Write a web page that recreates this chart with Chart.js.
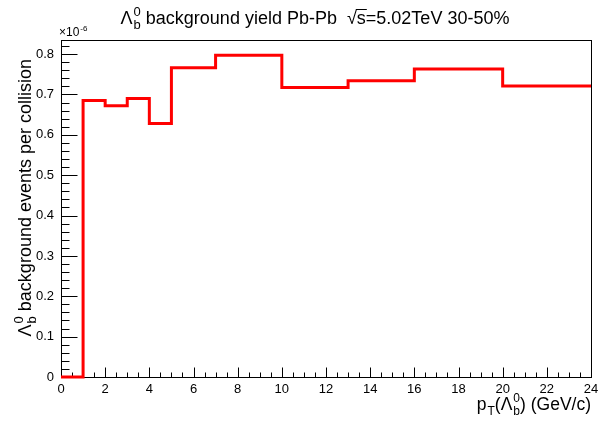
<!DOCTYPE html>
<html>
<head>
<meta charset="utf-8">
<script src="https://cdn.jsdelivr.net/npm/chart.js@4.4.1/dist/chart.umd.min.js"></script>
<style>
  body { margin: 0; background: #fff; }
  canvas { display: block; }
</style>
</head>
<body>
<canvas id="hist" width="611" height="424"></canvas>
<script>
// Bordes de los bins en pT (GeV/c)
const binEdges = [0, 1, 2, 3, 4, 5, 7, 10, 13, 16, 20, 24];
// Fondo por colisión en unidades de 1e-6
const bkgYield = [0, 0.685, 0.672, 0.690, 0.628, 0.766, 0.797, 0.717, 0.734, 0.763, 0.721];
// Etiquetas de los ejes
const xTickLabels = [0, 2, 4, 6, 8, 10, 12, 14, 16, 18, 20, 22, 24];
const yTickLabels = [0, 0.1, 0.2, 0.3, 0.4, 0.5, 0.6, 0.7, 0.8];

const FONT = '"Liberation Sans", Arial, Helvetica, sans-serif';

// Puntos del histograma (escalón)
const histPoints = bkgYield.map((v, i) => ({ x: binEdges[i], y: v }));
histPoints.push({ x: binEdges[binEdges.length - 1], y: bkgYield[bkgYield.length - 1] });

// Texto con sub/superíndices estilo ROOT
function itemWidth(ctx, it, size) {
    if (typeof it === 'string') {
        ctx.font = size + 'px ' + FONT;
        return ctx.measureText(it).width;
    }
    if (it.sqrt) {
        ctx.font = size + 'px ' + FONT;
        return ctx.measureText('\u221A').width + ctx.measureText(it.sqrt).width;
    }
    ctx.font = Math.round(size * 0.7) + 'px ' + FONT;
    const a = it.sup ? ctx.measureText(it.sup).width : 0;
    const b = it.sub ? ctx.measureText(it.sub).width : 0;
    return Math.max(a, b) + 1;
}

function drawRich(ctx, items, x, y, size, align) {
    let total = 0;
    items.forEach(it => total += itemWidth(ctx, it, size));
    if (align === 'center') x -= total / 2;
    if (align === 'right') x -= total;
    ctx.textBaseline = 'alphabetic';
    ctx.textAlign = 'left';
    items.forEach(it => {
        const w = itemWidth(ctx, it, size);
        if (typeof it === 'string') {
            ctx.font = size + 'px ' + FONT;
            ctx.fillText(it, x, y);
        } else if (it.sqrt) {
            ctx.font = size + 'px ' + FONT;
            const rw = ctx.measureText('\u221A').width;
            ctx.fillText('\u221A', x, y);
            ctx.fillText(it.sqrt, x + rw, y);
            ctx.beginPath();
            ctx.lineWidth = 1;
            ctx.moveTo(x + rw - 1, Math.round(y - size * 0.82) + 0.5);
            ctx.lineTo(x + w + 1, Math.round(y - size * 0.82) + 0.5);
            ctx.stroke();
        } else {
            ctx.font = Math.round(size * 0.7) + 'px ' + FONT;
            if (it.sup) ctx.fillText(it.sup, x + 1, y - size * 0.45);
            if (it.sub) ctx.fillText(it.sub, x + 1, y + size * 0.3);
        }
        x += w;
    });
}

// Marco, ticks y textos estilo ROOT
const rootFrame = {
    id: 'rootFrame',
    beforeDatasetsDraw(chart) {
        const ctx = chart.ctx;
        const a = chart.chartArea;
        const xs = chart.scales.x, ys = chart.scales.y;
        ctx.save();
        ctx.strokeStyle = '#000';
        ctx.fillStyle = '#000';
        ctx.lineWidth = 1;
        ctx.strokeRect(Math.round(a.left) + 0.5, Math.round(a.top) + 0.5,
            Math.round(a.right - a.left), Math.round(a.bottom - a.top));

        const bottom = Math.round(a.bottom) + 0.5;
        const left = Math.round(a.left) + 0.5;
        ctx.beginPath();
        // ticks x: mayores cada 2, menores cada 0.5
        for (let v = 0; v <= 24.001; v += 0.5) {
            const px = Math.round(xs.getPixelForValue(v)) + 0.5;
            const len = (Math.abs(v / 2 - Math.round(v / 2)) < 1e-6) ? 10 : 5;
            ctx.moveTo(px, bottom);
            ctx.lineTo(px, bottom - len);
        }
        // ticks y: mayores cada 0.1, menores cada 0.02
        for (let k = 0; k * 0.02 <= ys.max + 1e-9; k++) {
            const v = k * 0.02;
            const py = Math.round(ys.getPixelForValue(v)) + 0.5;
            const len = (k % 5 === 0) ? 16 : 8;
            ctx.moveTo(left, py);
            ctx.lineTo(left + len, py);
        }
        ctx.stroke();

        ctx.font = '13px ' + FONT;
        ctx.textAlign = 'center';
        ctx.textBaseline = 'middle';
        xTickLabels.forEach(v => ctx.fillText(String(v), xs.getPixelForValue(v), a.bottom + 12));
        ctx.textAlign = 'right';
        yTickLabels.forEach(v => ctx.fillText(String(v), a.left - 7, ys.getPixelForValue(v)));

        // x10^-6
        drawRich(ctx, ['\u00D710', { sup: '-6' }], a.left - 2, a.top - 4, 12, 'left');

        // título
        drawRich(ctx, ['\u039B', { sup: '0', sub: 'b' }, ' background yield Pb-Pb  ', { sqrt: 's' }, '=5.02TeV 30-50%'],
            315, 24, 18, 'center');

        // título eje x
        drawRich(ctx, ['p', { sub: 'T' }, '(\u039B', { sup: '0', sub: 'b' }, ') (GeV/c)'],
            a.right, 410, 17.5, 'right');

        // título eje y
        ctx.translate(31, 59);
        ctx.rotate(-Math.PI / 2);
        drawRich(ctx, ['\u039B', { sup: '0', sub: 'b' }, ' background events per collision'], 0, 0, 18, 'right');
        ctx.restore();
    }
};

const histChart = new Chart(document.getElementById('hist'), {
    type: 'line',
    data: {
        datasets: [{
            data: histPoints,
            stepped: 'before',
            borderColor: '#ff0000',
            borderWidth: 3,
            pointRadius: 0,
            fill: false,
            clip: false
        }]
    },
    options: {
        responsive: false,
        animation: false,
        devicePixelRatio: 1,
        layout: { padding: { left: 61, right: 20, top: 40, bottom: 47 } },
        scales: {
            x: { type: 'linear', min: 0, max: 24, display: false },
            y: { type: 'linear', min: 0, max: 0.835, display: false }
        },
        plugins: {
            legend: { display: false },
            title: { display: false },
            tooltip: { enabled: false }
        }
    },
    plugins: [rootFrame]
});
</script>
</body>
</html>
